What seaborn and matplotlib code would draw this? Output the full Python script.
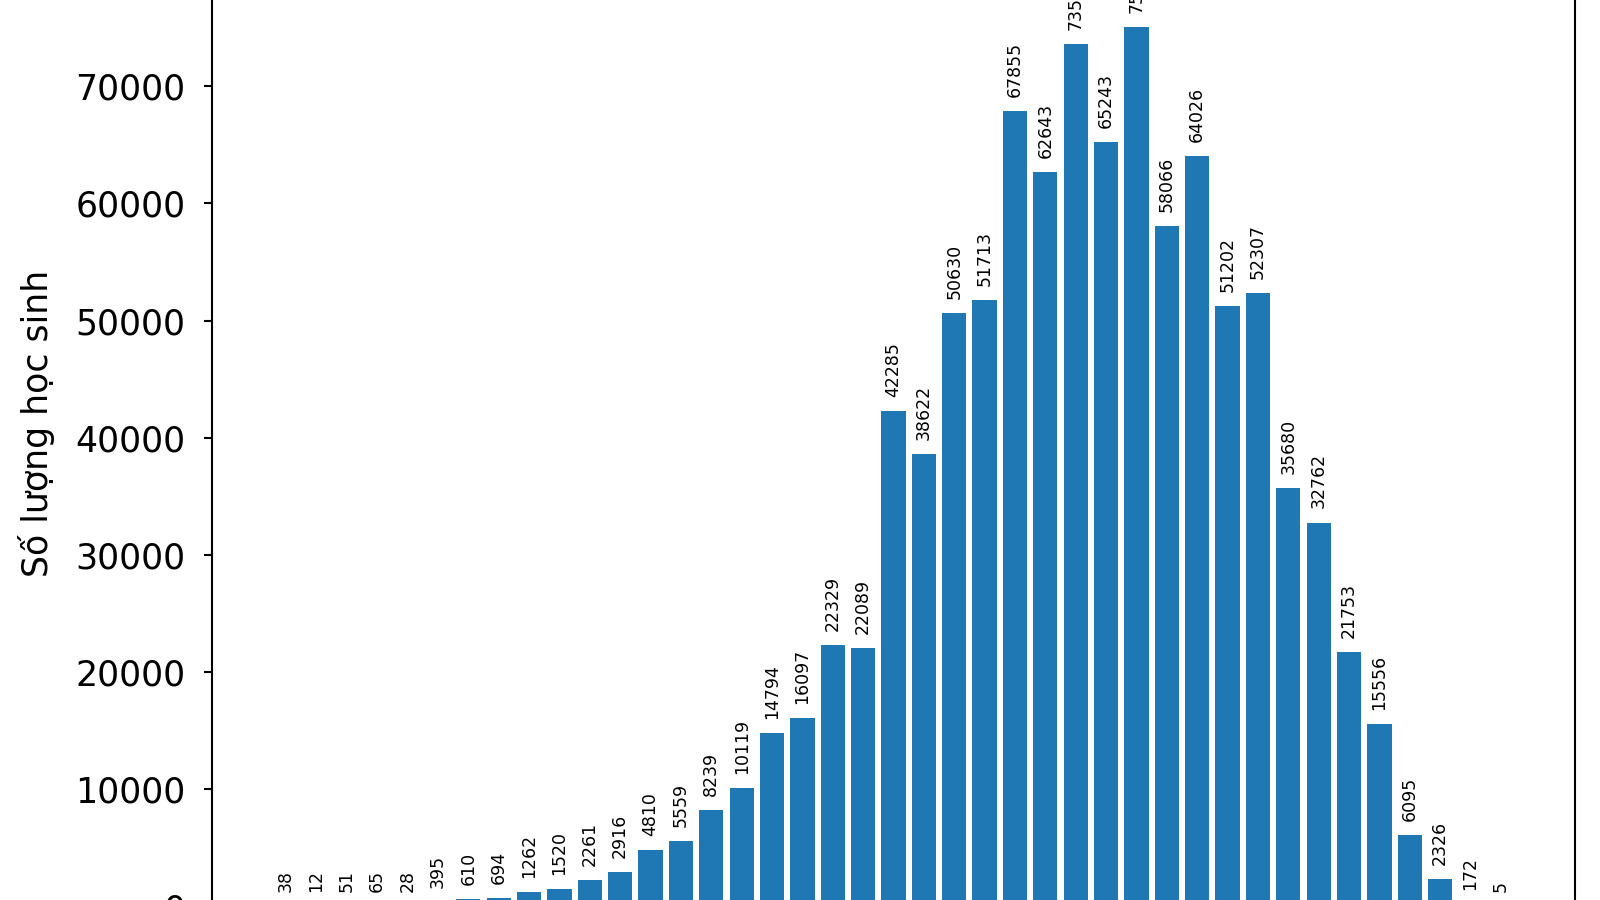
import matplotlib
matplotlib.use("Agg")
import matplotlib.pyplot as plt
import seaborn as sns
import pandas as pd

# diem thi: 0 -> 10, buoc 0.25
diem = [i * 0.25 for i in range(41)]
so_hoc_sinh = [38, 12, 51, 65, 28, 395, 610, 694, 1262, 1520,
               2261, 2916, 4810, 5559, 8239, 10119, 14794, 16097, 22329, 22089,
               42285, 38622, 50630, 51713, 67855, 62643, 73560, 65243, 75070, 58066,
               64026, 51202, 52307, 35680, 32762, 21753, 15556, 6095, 2326, 172, 5]

df = pd.DataFrame({"Điểm": [f"{d:g}" for d in diem], "Số lượng": so_hoc_sinh})

fig = plt.figure(figsize=(16, 9), dpi=100)
ax = fig.add_axes([212 / 1600, -0.0561, (1575 - 212) / 1600, 1.0753])

sns.barplot(data=df, x="Điểm", y="Số lượng", color="#1f77b4", saturation=1,
            width=0.8, ax=ax)

for i, v in enumerate(so_hoc_sinh):
    ax.text(i, v + 1200, str(v), rotation=90, ha="center", va="bottom", fontsize=12.5)

n = len(so_hoc_sinh)
ax.set_xlim(-0.4 - 0.05 * (n - 0.2), n - 0.6 + 0.05 * (n - 0.2))
ax.set_ylim(-0.05 * max(so_hoc_sinh), 1.05 * max(so_hoc_sinh))
ax.set_xlabel("Điểm")
ax.set_ylabel("Số lượng học sinh", fontsize=25)
ax.yaxis.set_label_coords(-0.1152, 0.545)
ax.tick_params(axis="y", labelsize=25, length=6, width=1.5, pad=13)
for s in ax.spines.values():
    s.set_linewidth(1.5)

fig.savefig("out.png", dpi=100)
